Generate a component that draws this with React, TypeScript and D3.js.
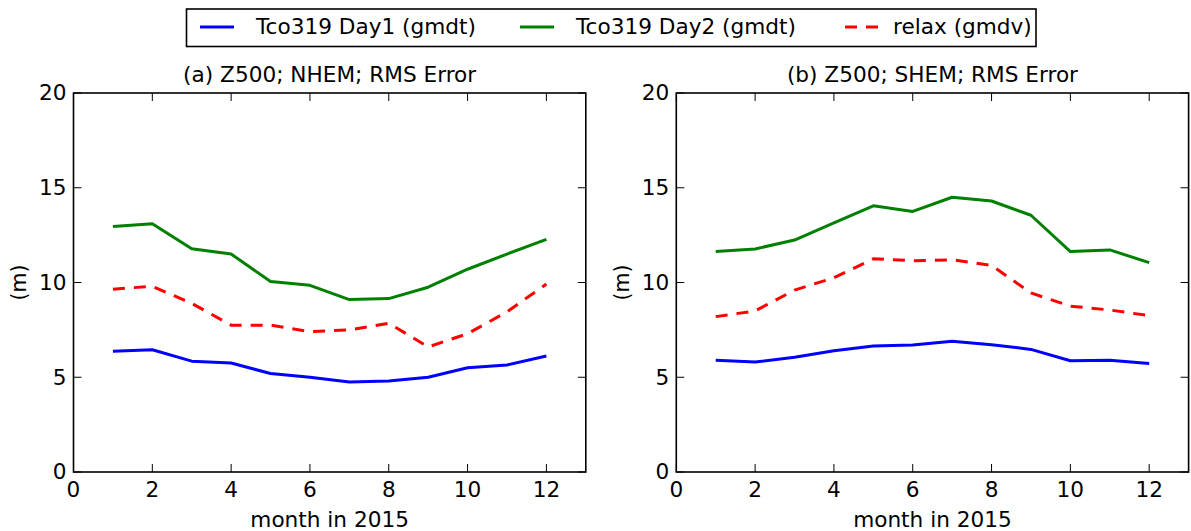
import React from "react";
import * as d3 from "d3";

const months = [1, 2, 3, 4, 5, 6, 7, 8, 9, 10, 11, 12];

const nhemDay1 = [6.37, 6.45, 5.85, 5.75, 5.2, 5.0, 4.75, 4.8, 5.0, 5.5, 5.65, 6.12];
const nhemDay2 = [12.95, 13.1, 11.78, 11.5, 10.05, 9.85, 9.1, 9.15, 9.75, 10.7, 11.5, 12.28];
const nhemRelax = [9.65, 9.8, 8.9, 7.75, 7.75, 7.4, 7.5, 7.85, 6.6, 7.3, 8.45, 9.92];

const shemDay1 = [5.9, 5.8, 6.05, 6.4, 6.65, 6.7, 6.9, 6.72, 6.47, 5.87, 5.9, 5.72];
const shemDay2 = [11.63, 11.77, 12.24, 13.15, 14.05, 13.75, 14.5, 14.3, 13.55, 11.63, 11.72, 11.05];
const shemRelax = [8.2, 8.5, 9.6, 10.25, 11.25, 11.15, 11.2, 10.9, 9.45, 8.75, 8.55, 8.25];

const xTicks = [0, 2, 4, 6, 8, 10, 12];
const yTicks = [0, 5, 10, 15, 20];

const seriesNames = ["Tco319 Day1 (gmdt)", "Tco319 Day2 (gmdt)", "relax (gmdv)"];
const seriesColors = ["#0000ff", "#008000", "#ff0000"];
const seriesDash = [null, null, "12,9"];

const panelTitles = ["(a) Z500; NHEM; RMS Error", "(b) Z500; SHEM; RMS Error"];
const panelData = [
  [nhemDay1, nhemDay2, nhemRelax],
  [shemDay1, shemDay2, shemRelax],
];

const FONT = "DejaVu Sans, sans-serif";
const FS = 20.5;
const SX = 1.055;

const top = 93;
const bottom = 472;
const panelLefts = [73.5, 676.3];
const panelWidth = 512.3;

function T({
  x,
  y,
  anchor,
  dy,
  children,
}: {
  x: number;
  y: number;
  anchor?: string;
  dy?: string;
  children: React.ReactNode;
}) {
  return (
    <g transform={`translate(${x},${y}) scale(${SX},1)`}>
      <text x={0} y={0} dy={dy} textAnchor={anchor || "start"} fontFamily={FONT} fontSize={FS}>
        {children}
      </text>
    </g>
  );
}

function Panel({ idx }: { idx: number }) {
  const left = panelLefts[idx];
  const right = left + panelWidth;
  const x = d3.scaleLinear().domain([0, 13]).range([left, right]);
  const y = d3.scaleLinear().domain([0, 20]).range([bottom, top]);
  const line = d3
    .line<number>()
    .x((_, i) => x(months[i]))
    .y((d) => y(d));
  const tickLen = 8;
  return (
    <g>
      {panelData[idx].map((s, k) => (
        <path
          key={k}
          d={line(s) || ""}
          fill="none"
          stroke={seriesColors[k]}
          strokeWidth={3}
          strokeDasharray={seriesDash[k] || undefined}
          strokeLinejoin="round"
        />
      ))}
      <rect x={left} y={top} width={right - left} height={bottom - top} fill="none" stroke="#000" strokeWidth={1.6} />
      {xTicks.map((t) => (
        <g key={"x" + t}>
          <line x1={x(t)} x2={x(t)} y1={bottom} y2={bottom - tickLen} stroke="#000" strokeWidth={1} />
          <line x1={x(t)} x2={x(t)} y1={top} y2={top + tickLen} stroke="#000" strokeWidth={1} />
          <T x={x(t)} y={497} anchor="middle">
            {t}
          </T>
        </g>
      ))}
      {yTicks.map((t) => (
        <g key={"y" + t}>
          <line x1={left} x2={left + tickLen} y1={y(t)} y2={y(t)} stroke="#000" strokeWidth={1} />
          <line x1={right} x2={right - tickLen} y1={y(t)} y2={y(t)} stroke="#000" strokeWidth={1} />
          <T x={left - 7} y={y(t)} dy="0.36em" anchor="end">
            {t}
          </T>
        </g>
      ))}
      <T x={(left + right) / 2} y={82} anchor="middle">
        {panelTitles[idx]}
      </T>
      <T x={(left + right) / 2} y={527} anchor="middle">
        month in 2015
      </T>
      <text
        transform={`translate(${left - 55},${(top + bottom) / 2}) rotate(-90)`}
        textAnchor="middle"
        dy="0.36em"
        fontFamily={FONT}
        fontSize={FS}
      >
        (m)
      </text>
    </g>
  );
}

function Legend() {
  const lx = [200, 520, 845];
  const tx = [256, 576, 893];
  return (
    <g>
      <rect x={186.5} y={9} width={849.5} height={37.5} fill="#fff" stroke="#000" strokeWidth={1.6} />
      {seriesNames.map((n, k) => (
        <g key={n}>
          <line
            x1={lx[k]}
            x2={lx[k] + 34}
            y1={27}
            y2={27}
            stroke={seriesColors[k]}
            strokeWidth={3}
            strokeDasharray={seriesDash[k] || undefined}
          />
          <T x={tx[k]} y={27} dy="0.36em">
            {n}
          </T>
        </g>
      ))}
    </g>
  );
}

export default function App() {
  return (
    <svg
      width={1191}
      height={531}
      style={{ position: "absolute", left: 0, top: 0, background: "#fff" }}
    >
      <rect x={0} y={0} width={1191} height={531} fill="#fff" />
      <Panel idx={0} />
      <Panel idx={1} />
      <Legend />
    </svg>
  );
}
